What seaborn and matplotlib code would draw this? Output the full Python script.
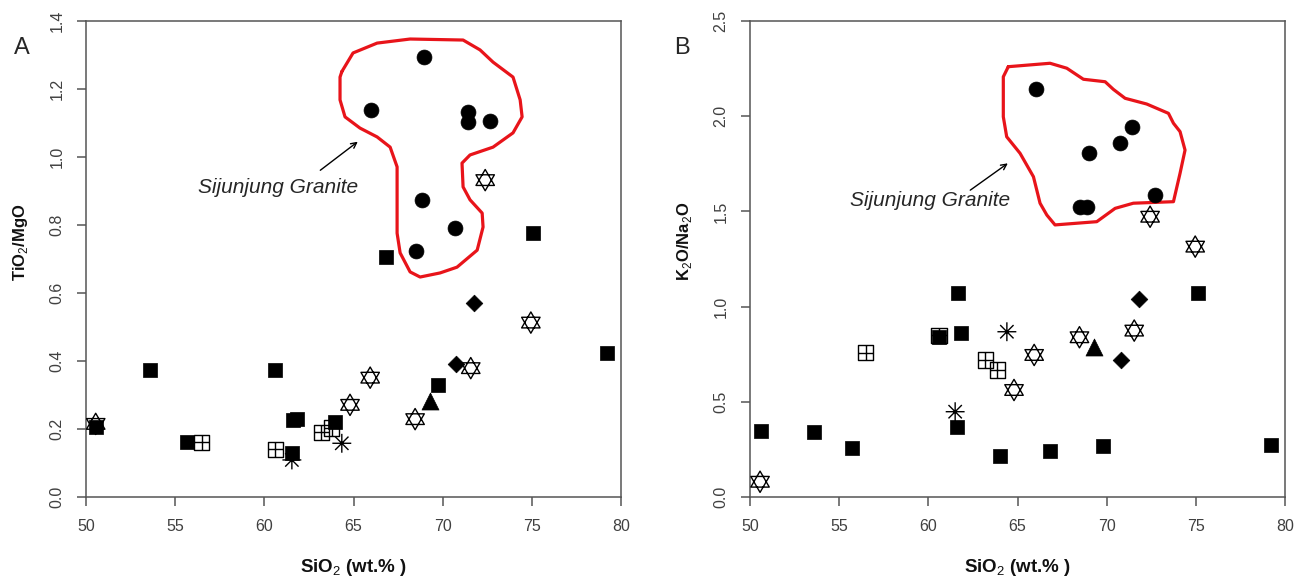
import numpy as np
import pandas as pd
import matplotlib
matplotlib.use("Agg")
import matplotlib.pyplot as plt
from matplotlib.path import Path
import seaborn as sns

# ---------------- data ----------------
# Panel A: TiO2/MgO vs SiO2
circ_x_A = [68.96, 65.98, 71.42, 71.42, 72.66, 68.81, 70.69, 68.49]
circ_y_A = [1.294, 1.138, 1.132, 1.103, 1.106, 0.874, 0.792, 0.724]
sq_x_A = [50.54, 53.59, 55.66, 60.60, 61.60, 61.80, 61.54, 63.96, 69.76, 79.20, 66.83, 75.08]
sq_y_A = [0.207, 0.374, 0.163, 0.374, 0.226, 0.228, 0.130, 0.221, 0.329, 0.423, 0.707, 0.776]
grid_x_A = [56.48, 60.60, 63.20, 63.78]
grid_y_A = [0.161, 0.140, 0.190, 0.203]
ast_x_A = [61.54, 64.34]
ast_y_A = [0.109, 0.158]
hex_x_A = [50.54, 65.93, 64.80, 68.45, 71.57, 74.94, 72.38]
hex_y_A = [0.215, 0.351, 0.271, 0.229, 0.379, 0.513, 0.932]
dia_x_A = [71.76, 70.75]
dia_y_A = [0.572, 0.391]
tri_x_A = [69.29]
tri_y_A = [0.283]
outline_x_A = [64.34, 64.97, 66.32, 68.17, 71.14, 72.09, 72.82, 73.94, 74.34, 74.45, 73.94,
               72.82, 71.53, 71.08, 71.14, 71.53, 72.21, 72.26, 71.93, 70.80, 69.85, 68.73,
               68.17, 67.61, 67.44, 67.44, 67.05, 66.32, 65.36, 64.52, 64.24, 64.24, 64.34]
outline_y_A = [1.251, 1.306, 1.335, 1.347, 1.344, 1.315, 1.279, 1.235, 1.168, 1.118, 1.071,
               1.029, 1.006, 0.982, 0.912, 0.874, 0.835, 0.794, 0.726, 0.676, 0.659, 0.647,
               0.662, 0.718, 0.776, 0.971, 1.029, 1.059, 1.085, 1.118, 1.168, 1.235, 1.251]

# Panel B: K2O/Na2O vs SiO2
circ_x_B = [66.04, 71.44, 70.75, 69.01, 68.51, 68.88, 72.68]
circ_y_B = [2.141, 1.945, 1.861, 1.805, 1.521, 1.521, 1.586]
hex_x_B = [72.43, 74.96, 71.54, 68.47, 65.93, 64.80, 50.56]
hex_y_B = [1.472, 1.315, 0.874, 0.839, 0.746, 0.562, 0.080]
sq_x_B = [50.60, 53.59, 55.70, 60.62, 61.68, 61.83, 61.59, 63.99, 66.83, 69.78, 75.10, 79.20]
sq_y_B = [0.348, 0.340, 0.256, 0.842, 1.070, 0.863, 0.366, 0.215, 0.243, 0.268, 1.070, 0.273]
grid_x_B = [56.49, 60.60, 63.18, 63.87]
grid_y_B = [0.758, 0.850, 0.720, 0.667]
ast_x_B = [61.50, 64.40]
ast_y_B = [0.448, 0.868]
tri_x_B = [69.29]
tri_y_B = [0.789]
dia_x_B = [71.82, 70.81]
dia_y_B = [1.040, 0.720]
outline_x_B = [64.48, 66.82, 67.76, 68.69, 69.91, 70.37, 71.03, 72.24, 73.46, 73.74, 74.11,
               74.39, 74.11, 73.74, 71.49, 70.47, 69.44, 67.10, 66.64, 66.26, 65.89, 65.14,
               64.39, 64.20, 64.20, 64.48]
outline_y_B = [2.260, 2.278, 2.252, 2.194, 2.181, 2.141, 2.094, 2.064, 2.015, 1.963, 1.919,
               1.822, 1.700, 1.551, 1.543, 1.516, 1.446, 1.429, 1.481, 1.543, 1.682, 1.805,
               1.892, 1.997, 2.207, 2.260]

xticks = [50, 55, 60, 65, 70, 75, 80]
yticks_A = [0.0, 0.2, 0.4, 0.6, 0.8, 1.0, 1.2, 1.4]
yticks_B = [0.0, 0.5, 1.0, 1.5, 2.0, 2.5]
label_text = "Sijunjung Granite"

# ---------------- markers ----------------
M, L, C = Path.MOVETO, Path.LINETO, Path.CLOSEPOLY
s3 = np.sqrt(3) / 2
hexagram = Path(
    [(0, 1), (-s3, -0.5), (s3, -0.5), (0, 1),
     (0, -1), (-s3, 0.5), (s3, 0.5), (0, -1)],
    [M, L, L, C, M, L, L, C])
gridsq = Path(
    [(-1, -1), (1, -1), (1, 1), (-1, 1), (-1, -1),
     (0, -1), (0, 1), (-1, 0), (1, 0)],
    [M, L, L, L, C, M, L, M, L])
d = 0.7071
asterisk = Path(
    [(-1, 0), (1, 0), (0, -1), (0, 1), (-d, -d), (d, d), (-d, d), (d, -d)],
    [M, L, M, L, M, L, M, L])

sns.set_style("ticks")
plt.rcParams["font.family"] = ["Liberation Sans", "DejaVu Sans"]
plt.rcParams["mathtext.fontset"] = "custom"
plt.rcParams["mathtext.rm"] = "Liberation Sans"
plt.rcParams["mathtext.bf"] = "Liberation Sans:bold"

fig = plt.figure(figsize=(13.04, 5.80), dpi=100)
axA = fig.add_axes([0.0660, 0.1431, 0.4103, 0.8207])
axB = fig.add_axes([0.5752, 0.1431, 0.4103, 0.8207])

spine_col = "#555555"
tick_col = "#404040"


def draw(ax, hx, hy, gx, gy, ax_, ay_, sx, sy, tx, ty, dx, dy, cx, cy):
    open_kw = dict(facecolor="none", edgecolor="black", linewidth=1.0, ax=ax, zorder=3)
    sns.scatterplot(x=hx, y=hy, marker=hexagram, s=235, **open_kw)
    sns.scatterplot(x=gx, y=gy, marker=gridsq, s=120, **open_kw)
    sns.scatterplot(x=ax_, y=ay_, marker=asterisk, s=185, **open_kw)
    fill_kw = dict(color="black", edgecolor="black", linewidth=0.5, ax=ax, zorder=4)
    sns.scatterplot(x=sx, y=sy, marker="s", s=105, **fill_kw)
    sns.scatterplot(x=tx, y=ty, marker="^", s=150, **fill_kw)
    sns.scatterplot(x=dx, y=dy, marker="D", s=72, **fill_kw)
    sns.scatterplot(x=cx, y=cy, marker="o", s=115, **fill_kw)


draw(axA, hex_x_A, hex_y_A, grid_x_A, grid_y_A, ast_x_A, ast_y_A, sq_x_A, sq_y_A,
     tri_x_A, tri_y_A, dia_x_A, dia_y_A, circ_x_A, circ_y_A)
draw(axB, hex_x_B, hex_y_B, grid_x_B, grid_y_B, ast_x_B, ast_y_B, sq_x_B, sq_y_B,
     tri_x_B, tri_y_B, dia_x_B, dia_y_B, circ_x_B, circ_y_B)

axA.plot(outline_x_A, outline_y_A, color="#e8141a", lw=2.3, zorder=2, solid_joinstyle="round")
axB.plot(outline_x_B, outline_y_B, color="#e8141a", lw=2.3, zorder=2, solid_joinstyle="round")

axA.annotate("", xy=(65.36, 1.050), xytext=(63.01, 0.956),
             arrowprops=dict(arrowstyle="->", color="black", lw=1.0))
axA.text(60.74, 0.909, label_text, style="italic", fontsize=15, ha="center", va="center")
axB.annotate("", xy=(64.58, 1.761), xytext=(62.22, 1.603),
             arrowprops=dict(arrowstyle="->", color="black", lw=1.0))
axB.text(60.09, 1.555, label_text, style="italic", fontsize=15, ha="center", va="center")

for ax, yt, ylab in [(axA, yticks_A, r"TiO$_2$/MgO"), (axB, yticks_B, r"K$_2$O/Na$_2$O")]:
    ax.set_xlim(50, 80)
    ax.set_ylim(yt[0], yt[-1])
    ax.set_xticks(xticks)
    ax.set_xticklabels([str(v) for v in xticks])
    ax.set_yticks(yt)
    ax.set_yticklabels([f"{v:.1f}" for v in yt], rotation=90, va="center")
    ax.tick_params(axis="both", direction="out", length=6.5, width=1.1, color=spine_col,
                   labelcolor=tick_col, labelsize=11.5)
    ax.tick_params(axis="x", pad=9)
    ax.tick_params(axis="y", pad=9)
    for sp in ax.spines.values():
        sp.set_visible(True)
        sp.set_color(spine_col)
        sp.set_linewidth(1.1)
    ax.set_xlabel(r"SiO$_2$ (wt.% )", fontsize=13.5, color="#111111", va="center",
                  fontweight="bold")
    ax.set_ylabel(ylab, fontsize=12, color="#111111", va="center", fontweight="bold")
    ax.xaxis.set_label_coords(0.5, -0.148)
    ax.yaxis.set_label_coords(-0.122, 0.536)

fig.text(22 / 1304, 1 - 48 / 580, "A", fontsize=17, ha="center", va="center")
fig.text(682 / 1304, 1 - 48 / 580, "B", fontsize=17, ha="center", va="center")

fig.savefig("out.png", dpi=100)
